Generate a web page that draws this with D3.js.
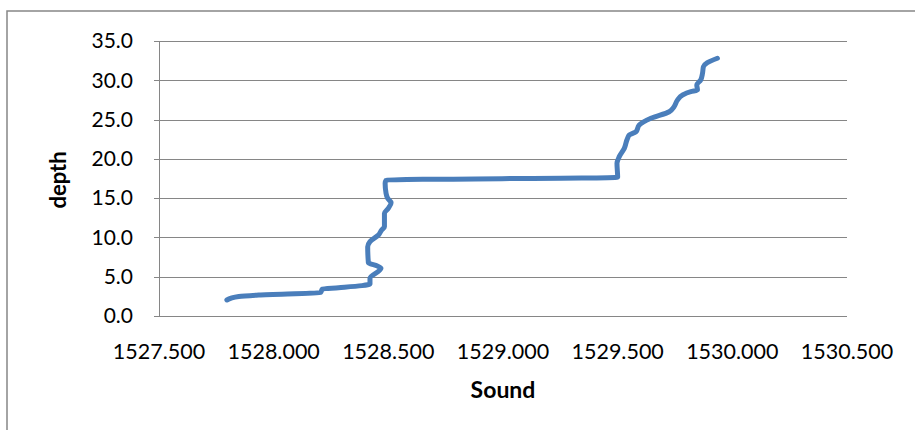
<!DOCTYPE html>
<html>
<head>
<meta charset="utf-8">
<script src="https://cdn.jsdelivr.net/npm/d3@7"></script>
<style>
  body { margin: 0; background: #fff; }
  text { font-family: Lato, "Open Sans", sans-serif; fill: #000; }
</style>
</head>
<body>
<div id="chart"></div>
<script>
// Sound speed profile
const sound = [1527.796, 1527.848, 1527.935, 1528.204, 1528.213, 1528.283, 1528.420, 1528.420,
    1528.468, 1528.452, 1528.413, 1528.410, 1528.420, 1528.457, 1528.471, 1528.483, 1528.483,
    1528.500, 1528.512, 1528.497, 1528.490, 1528.486, 1528.491, 1529.500, 1529.497, 1529.507,
    1529.529, 1529.543, 1529.551, 1529.580, 1529.594, 1529.645, 1529.725, 1529.746, 1529.761,
    1529.783, 1529.819, 1529.848, 1529.845, 1529.862, 1529.870, 1529.874, 1529.891, 1529.935]
const depth = [2.04, 2.48, 2.67, 2.99, 3.44, 3.60, 4.07, 4.80,
    6.07, 6.36, 6.78, 8.82, 9.46, 10.31, 10.95, 11.37, 13.07,
    13.71, 14.42, 14.98, 15.62, 16.89, 17.31, 17.65, 19.43, 20.28,
    21.34, 22.62, 23.04, 23.46, 24.31, 25.16, 26.00, 26.64, 27.49,
    28.13, 28.55, 28.76, 29.40, 30.04, 30.89, 31.73, 32.24, 32.80]

const xTicks = [1527.5, 1528.0, 1528.5, 1529.0, 1529.5, 1530.0, 1530.5]
const yTicks = [0, 5, 10, 15, 20, 25, 30, 35]

const WIDTH = 915
const HEIGHT = 430
const PLOT = {LEFT:159, RIGHT:847, TOP:41, BOTTOM:316}

const data = sound.map((s, i) => ({sound: s, depth: depth[i]}))

let svg = d3.select("#chart").append("svg")
    .attr("width", WIDTH)
    .attr("height", HEIGHT)

// Outer chart border (left and top visible)
svg.append("rect")
    .attr("x", 7).attr("y", 11)
    .attr("width", WIDTH + 20).attr("height", HEIGHT + 20)
    .attr("fill", "none")
    .attr("stroke", "#878787")
    .attr("stroke-width", 1.5)

let xScale = d3.scaleLinear()
    .domain([1527.5, 1530.5])
    .range([PLOT.LEFT, PLOT.RIGHT])

let yScale = d3.scaleLinear()
    .domain([0, 35])
    .range([PLOT.BOTTOM, PLOT.TOP])

// Horizontal gridlines
svg.append("g")
    .selectAll("line")
    .data(yTicks)
    .join("line")
        .attr("x1", PLOT.LEFT - 5)
        .attr("x2", PLOT.RIGHT)
        .attr("y1", d => Math.round(yScale(d)) + 0.5)
        .attr("y2", d => Math.round(yScale(d)) + 0.5)
        .attr("stroke", "#868686")
        .attr("stroke-width", 1)

// Y axis line
svg.append("line")
    .attr("x1", PLOT.LEFT + 0.5).attr("x2", PLOT.LEFT + 0.5)
    .attr("y1", PLOT.TOP).attr("y2", PLOT.BOTTOM)
    .attr("stroke", "#868686")

// Y tick labels
svg.append("g")
    .selectAll("text")
    .data(yTicks)
    .join("text")
        .attr("x", PLOT.LEFT - 26)
        .attr("y", d => yScale(d))
        .attr("dy", "0.35em")
        .attr("text-anchor", "end")
        .style("font-size", "21px")
        .text(d3.format(".1f"))

// X tick labels
svg.append("g")
    .selectAll("text")
    .data(xTicks)
    .join("text")
        .attr("x", d => xScale(d))
        .attr("y", 359)
        .attr("text-anchor", "middle")
        .style("font-size", "21.5px")
        .text(d3.format(".3f"))

// Axis titles
svg.append("text")
    .attr("x", 503)
    .attr("y", 398)
    .attr("text-anchor", "middle")
    .style("font-size", "23px")
    .style("font-weight", "bold")
    .text("Sound")

svg.append("text")
    .attr("transform", "translate(66,180) rotate(-90)")
    .attr("text-anchor", "middle")
    .style("font-size", "22px")
    .style("font-weight", "bold")
    .text("depth")

// The profile line (depth increases monotonically, so smooth along y)
let line = d3.line()
    .x(d => xScale(d.sound))
    .y(d => yScale(d.depth))
    .curve(d3.curveMonotoneY)

svg.append("path")
    .datum(data)
    .attr("d", line)
    .attr("fill", "none")
    .attr("stroke", "#4a7ebb")
    .attr("stroke-width", 5)
    .attr("stroke-linecap", "round")
    .attr("stroke-linejoin", "round")
</script>
</body>
</html>
